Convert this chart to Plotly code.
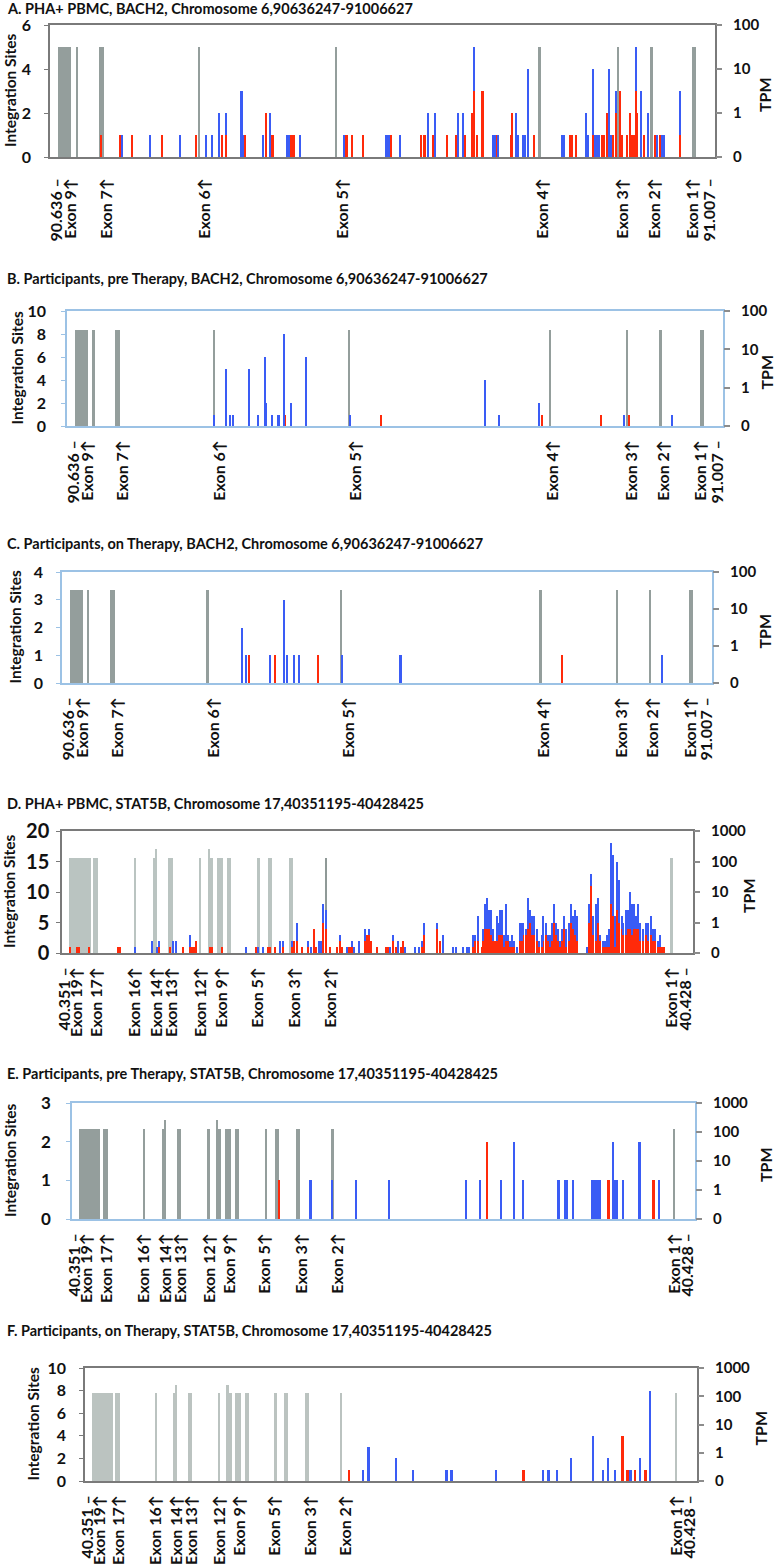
import math
import plotly.graph_objects as go

# ---------------- data ----------------
# BACH2 region, positions in kb from 90,636 kb
bach2_tick_kb = [0, 8.0, 28.4, 84.1, 162.5, 276.1, 321.6, 339.8, 361.4, 371]
bach2_tick_text = ["90.636 –", "Exon 9↑", "Exon 7↑", "Exon 6↑", "Exon 5↑",
                   "Exon 4↑", "Exon 3↑", "Exon 2↑", "Exon 1↑", "91.007 –"]
bach2_exon_start = [0.6, 10.9, 23.9, 80.2, 158.0, 273.9, 318.3, 337.6, 360.8]
bach2_exon_end = [8.0, 11.9, 26.7, 81.2, 159.0, 274.9, 319.3, 338.6, 363.1]
bach2_exon_tpm = [32, 32, 32, 32, 32, 32, 32, 32, 32]

# STAT5B region, positions in kb from 40,351 kb
stat5b_tick_kb = [0, 1.5, 4.0, 8.7, 11.4, 13.3, 16.9, 19.4, 23.9, 28.5, 33.0, 75.3, 77.0]
stat5b_tick_text = ["40.351 –", "Exon 19↑", "Exon 17↑", "Exon 16↑", "Exon 14↑",
                    "Exon 13↑", "Exon 12↑", "Exon 9↑", "Exon 5↑", "Exon 3↑",
                    "Exon 2↑", "Exon 1↑", "40.428 –"]
stat5b_exon_start = [0.5, 3.51, 8.53, 10.9, 11.2, 12.8, 16.6, 17.75, 18.0, 18.81,
                     20.05, 23.82, 25.13, 27.77, 32.2, 75.05]
stat5b_exon_end = [3.19, 4.09, 8.83, 11.2, 11.45, 13.35, 16.9, 18.0, 18.39, 19.63,
                   20.55, 24.12, 25.63, 28.31, 32.5, 75.35]
stat5b_exon_tpm = [126, 126, 126, 126, 251, 126, 126, 251, 126, 126,
                   126, 126, 126, 126, 126, 126]

# A. PHA+ PBMC, BACH2
a_pos = [25, 36, 37, 43, 53, 60, 70, 79, 85, 88, 92, 94, 96, 105, 106, 107, 117, 119,
         121, 122, 123, 131, 132, 133, 134, 135, 138, 163, 164, 165, 168, 174, 187, 188,
         189, 190, 195, 207, 209, 211, 214, 215, 222, 227, 228, 231, 232, 236, 237, 239,
         242, 248, 249, 250, 251, 258, 259, 261, 262, 265, 266, 268, 271, 287, 288, 292,
         293, 295, 301, 302, 305, 306, 307, 308, 310, 311, 313, 314, 315, 316, 318, 320,
         321, 324, 326, 327, 328, 329, 330, 332, 334, 336, 340, 341, 343, 344, 345, 354]
a_red = [1, 1, 0, 1, 0, 1, 0, 1, 0, 0, 0, 1, 1, 0, 0, 1, 0, 2,
         0, 1, 1, 0, 0, 1, 1, 1, 0, 0, 1, 1, 1, 1, 0, 0,
         0, 1, 0, 1, 1, 0, 1, 0, 1, 1, 0, 0, 1, 2, 3, 1,
         3, 0, 0, 1, 0, 1, 2, 0, 0, 0, 0, 0, 1, 0, 0, 1,
         1, 1, 0, 0, 1, 0, 0, 0, 1, 1, 2, 0, 0, 1, 2, 3,
         1, 1, 2, 1, 1, 3, 2, 0, 1, 0, 1, 0, 1, 0, 0, 1]
a_blue = [0, 0, 1, 0, 1, 0, 1, 0, 1, 1, 2, 0, 1, 3, 1, 0, 1, 0,
          2, 0, 0, 1, 1, 0, 0, 0, 1, 1, 0, 0, 0, 0, 1, 1,
          1, 0, 1, 0, 0, 2, 0, 2, 0, 0, 2, 2, 0, 0, 2, 0,
          0, 1, 1, 0, 1, 0, 0, 2, 1, 1, 1, 4, 0, 1, 1, 0,
          0, 0, 2, 1, 3, 1, 1, 1, 0, 0, 0, 4, 1, 0, 1, 0,
          0, 0, 0, 0, 0, 2, 0, 3, 0, 2, 0, 1, 0, 1, 1, 2]

# B. Participants, pre Therapy, BACH2
b_pos = [81, 88, 90, 92, 101, 106, 110, 111, 114, 118, 121, 122, 125, 134, 159, 177,
         237, 245, 268, 270, 304, 317, 320, 345]
b_red = [0, 0, 0, 0, 0, 0, 0, 0, 0, 0, 0, 1, 0, 0, 0, 1, 0, 0, 0, 1, 1, 0, 1, 0]
b_blue = [1, 5, 1, 1, 5, 1, 6, 2, 1, 1, 8, 0, 2, 6, 1, 0, 4, 1, 2, 0, 0, 1, 0, 1]

# C. Participants, on Therapy, BACH2
c_pos = [101, 103, 105, 117, 120, 125, 127, 131, 134, 145, 159, 193, 287, 345]
c_red = [0, 0, 1, 0, 1, 0, 0, 0, 0, 1, 0, 0, 1, 0]
c_blue = [2, 1, 0, 1, 0, 3, 1, 1, 1, 0, 1, 1, 0, 1]

# D. PHA+ PBMC, STAT5B
d_pos = [0.62, 1.53, 1.77, 3.01, 6.61, 6.82, 8.68, 10.75, 11.37, 11.69, 13.02, 13.43,
         13.76, 14.67, 15.5, 15.79, 16.0, 16.21, 17.98, 18.27, 19.43, 22.44, 23.68,
         23.89, 24.59, 25.13, 25.42, 26.04, 26.66, 27.0, 28.11, 28.4, 28.73, 29.35,
         30.17, 30.47, 30.88, 31.12, 31.53, 31.74, 32.03, 32.33, 32.86, 33.69, 34.1,
         34.39, 34.93, 35.13, 35.34, 35.63, 35.87, 36.49, 37.2, 37.41, 37.7, 37.94,
         38.65, 39.8, 40.01, 40.3, 40.71, 41.04, 41.33, 41.63, 41.87, 42.16, 43.4,
         43.93, 44.23, 44.55, 46.09, 46.5, 46.91, 48.15, 48.48, 49.39, 49.89, 50.13,
         50.55, 50.84, 51.17, 51.67, 51.87, 52.08, 52.29, 52.58, 52.82, 53.11, 53.32,
         53.53, 53.73, 53.94, 54.23, 54.44, 54.68, 54.97, 55.18, 55.47, 55.71, 56.01,
         56.42, 56.63, 56.83, 57.13, 57.45, 57.66, 57.95, 58.19, 58.49, 58.81, 59.11,
         59.31, 59.61, 59.85, 60.14, 60.43, 60.64, 60.88, 61.17, 61.38, 61.67, 61.91,
         62.12, 62.5, 62.71, 62.95, 63.24, 63.45, 64.69, 64.98, 65.22, 65.51, 65.81,
         66.13, 66.34, 66.67, 66.96, 67.17, 67.42, 67.67, 67.91, 68.2, 68.49, 68.73,
         69.03, 69.23, 69.56, 69.85, 70.06, 70.35, 70.6, 70.8, 71.09, 71.3, 71.71,
         72.01, 72.33, 72.63, 72.87, 73.16, 73.49, 73.78, 74.07, 74.28]
d_red = [1, 1, 1, 1, 1, 1, 0, 0, 0, 1, 1, 0,
         0, 1, 1, 1, 1, 2, 1, 1, 1, 0, 1,
         0, 0, 1, 1, 1, 0, 1, 1, 2, 2, 1,
         1, 0, 4, 1, 0, 0, 5, 4, 1, 1, 2,
         1, 0, 1, 1, 1, 0, 0, 2, 3, 3, 2,
         1, 1, 1, 0, 2, 1, 0, 1, 2, 0, 0,
         0, 1, 3, 4, 2, 0, 0, 0, 0, 0, 0,
         1, 2, 2, 1, 2, 4, 4, 4, 3, 2, 2,
         2, 3, 3, 3, 1, 2, 2, 1, 1, 1, 0,
         2, 2, 3, 3, 4, 5, 3, 3, 2, 1, 1,
         2, 3, 2, 1, 2, 5, 3, 2, 1, 2, 4,
         1, 2, 5, 4, 3, 2, 0, 5, 11, 3, 2,
         5, 2, 1, 1, 1, 1, 8, 6, 1, 7, 5,
         4, 3, 3, 4, 4, 3, 4, 4, 4, 2, 2,
         3, 2, 3, 2, 2, 1, 1, 1, 1]
d_blue = [0, 0, 0, 0, 0, 0, 1, 2, 1, 1, 0, 2,
          2, 0, 2, 0, 0, 0, 0, 0, 0, 1, 0,
          1, 1, 0, 0, 0, 2, 1, 1, 0, 3, 0,
          1, 1, 0, 0, 2, 2, 3, 3, 0, 0, 1,
          0, 1, 0, 0, 1, 1, 2, 2, 0, 1, 0,
          0, 0, 0, 1, 1, 0, 2, 0, 0, 1, 1,
          1, 1, 2, 1, 0, 3, 1, 1, 1, 1, 1,
          2, 1, 4, 0, 2, 4, 5, 3, 4, 2, 0,
          4, 2, 4, 4, 2, 6, 1, 1, 2, 1, 1,
          3, 3, 2, 1, 5, 2, 3, 3, 2, 1, 2,
          4, 2, 1, 2, 3, 3, 2, 2, 1, 2, 2,
          3, 3, 3, 2, 4, 4, 1, 3, 2, 3, 6,
          4, 1, 1, 1, 2, 3, 10, 10, 5, 8, 7,
          2, 2, 4, 3, 6, 5, 4, 2, 4, 3, 2,
          2, 3, 3, 2, 2, 1, 2, 0, 0]

# E. Participants, pre Therapy, STAT5B
e_pos = [25.68, 29.6, 32.3, 35.3, 39.5, 49.15, 50.9, 51.75, 53.55, 55.1, 56.3, 60.75,
         61.6, 61.8, 62.55, 64.95, 65.15, 65.36, 65.57, 65.78, 65.99, 67.03, 67.59,
         67.88, 68.09, 68.84, 70.93, 72.69, 73.32]
e_red = [1, 0, 0, 0, 0, 0, 0, 2, 0, 0, 0, 0, 0, 0, 0, 0, 0, 0, 0, 0, 0, 1, 0, 0, 0,
         0, 0, 1, 0]
e_blue = [0, 1, 1, 1, 1, 1, 1, 0, 1, 2, 1, 1, 1, 1, 1, 1, 1, 1, 1, 1, 1, 0, 2, 1, 1,
          1, 2, 0, 1]

# F. Participants, on Therapy, STAT5B
f_pos = [33.4, 35.2, 35.9, 39.4, 41.6, 45.9, 46.5, 52.2, 55.7, 58.2, 58.9, 60.0, 61.8,
         64.6, 65.9, 66.5, 67.4, 68.4, 69.0, 69.4, 70.0, 70.6, 71.3, 71.9]
f_red = [1, 0, 0, 0, 0, 0, 0, 0, 1, 0, 0, 0, 0, 0, 0, 0, 0, 4, 1, 0, 1, 0, 1, 0]
f_blue = [0, 1, 3, 2, 1, 1, 1, 1, 0, 1, 1, 1, 2, 4, 1, 2, 1, 0, 0, 1, 0, 2, 0, 8]

# ---------------- layout ----------------
W, H = 777, 1564
RED = "#FF2A0A"
BLUE = "#3A5CF5"
DARK_FRAME = "#7a7a7a"
BLUE_FRAME = "#9cc2e5"
INK = "#111111"

genes = {
    "bach2": dict(ticks=bach2_tick_kb, text=bach2_tick_text, start=bach2_exon_start,
                  end=bach2_exon_end, tpm=bach2_exon_tpm, xr=[-4, 374], bw=0.9,
                  tpm_text=["0", "1", "10", "100"]),
    "stat5b": dict(ticks=stat5b_tick_kb, text=stat5b_tick_text, start=stat5b_exon_start,
                   end=stat5b_exon_end, tpm=stat5b_exon_tpm, xr=[-0.37, 77.87], bw=0.25,
                   tpm_text=["0", "1", "10", "100", "1000"]),
}

# box = plot area in px (left, right, top, bottom); ty = title y;
# lt / rt = x of the left / right axis titles
panels = [
    dict(title="A. PHA+ PBMC, BACH2, Chromosome 6,90636247-91006627", gene="bach2",
         data=(a_pos, a_red, a_blue), ymax=6, dtick=2, frame=DARK_FRAME, gray="#949e9c",
         box=(50, 715, 25, 157), ty=9, xgap=13, ysize=16, ygap=10, lt=10, rt=765),
    dict(title="B. Participants, pre Therapy, BACH2, Chromosome 6,90636247-91006627",
         gene="bach2", data=(b_pos, b_red, b_blue), ymax=10, dtick=2, frame=BLUE_FRAME,
         gray="#949e9c", box=(67, 723, 311, 426), ty=278, xgap=6, ysize=16, ygap=12,
         lt=16, rt=766),
    dict(title="C. Participants, on Therapy, BACH2, Chromosome 6,90636247-91006627",
         gene="bach2", data=(c_pos, c_red, c_blue), ymax=4, dtick=1, frame=BLUE_FRAME,
         gray="#949e9c", box=(62, 712, 572, 683), ty=543, xgap=6, ysize=16, ygap=10,
         lt=14, rt=764),
    dict(title="D. PHA+ PBMC, STAT5B, Chromosome 17,40351195-40428425", gene="stat5b",
         data=(d_pos, d_red, d_blue), ymax=20, dtick=5, frame=DARK_FRAME, gray="#bac4c1",
         box=(62, 693, 831, 953), ty=803, xgap=6, ysize=20, ygap=3, lt=9, rt=748),
    dict(title="E. Participants, pre Therapy, STAT5B, Chromosome 17,40351195-40428425",
         gene="stat5b", data=(e_pos, e_red, e_blue), ymax=3, dtick=1, frame=BLUE_FRAME,
         gray="#949e9c", box=(72, 695, 1103, 1219), ty=1073, xgap=6, ysize=17, ygap=12,
         lt=10, rt=765),
    dict(title="F. Participants, on Therapy, STAT5B, Chromosome 17,40351195-40428425",
         gene="stat5b", data=(f_pos, f_red, f_blue), ymax=10, dtick=2, frame=DARK_FRAME,
         gray="#bbc3c0", box=(85, 697, 1368, 1481), ty=1330, xgap=6, ysize=16, ygap=10,
         lt=32, rt=760),
]

FONT = "Lato"
fig = go.Figure()
layout = {}
annotations = []


def note(text, x, y, size, angle=0, anchor="center"):
    annotations.append(dict(text=text, xref="paper", yref="paper", x=x / W, y=1 - y / H,
                            xanchor=anchor, yanchor="middle", showarrow=False,
                            textangle=angle,
                            font=dict(size=size, color=INK, weight="bold")))


for i, p in enumerate(panels):
    g = genes[p["gene"]]
    pos, red, blue = p["data"]
    l, r, t, b = p["box"]
    frame = p["frame"]
    n = len(g["tpm_text"]) - 1
    xa = "x" if i == 0 else f"x{i + 1}"
    ya_tpm = "y" if i == 0 else f"y{2 * i + 1}"
    ya_cnt = f"y{2 * i + 2}"
    xkey = "xaxis" if i == 0 else f"xaxis{i + 1}"
    ykey_tpm = "yaxis" if i == 0 else f"yaxis{2 * i + 1}"
    ykey_cnt = f"yaxis{2 * i + 2}"

    # exon expression (grey), TPM on a log-like axis where 0 sits at the bottom
    gx = [(s + e) / 2 for s, e in zip(g["start"], g["end"])]
    gw = [e - s for s, e in zip(g["start"], g["end"])]
    gy = [math.log10(v) + 1 for v in g["tpm"]]
    gcol = [p["gray"]] * len(gx)
    if i == 3:
        gcol[-2] = "#8f9997"
    fig.add_trace(go.Bar(x=gx, y=gy, width=gw, marker=dict(color=gcol, line_width=0),
                         xaxis=xa, yaxis=ya_tpm, showlegend=False, hoverinfo="skip"))
    fig.add_trace(go.Bar(x=pos, y=red, width=g["bw"], marker=dict(color=RED, line_width=0),
                         xaxis=xa, yaxis=ya_cnt, showlegend=False))
    fig.add_trace(go.Bar(x=pos, y=blue, width=g["bw"], marker=dict(color=BLUE, line_width=0),
                         xaxis=xa, yaxis=ya_cnt, showlegend=False))

    layout[xkey] = dict(domain=[l / W, r / W], range=g["xr"], anchor=ya_tpm,
                        automargin=False, showline=True, mirror=True,
                        linecolor=frame, linewidth=1.5, showgrid=False, zeroline=False,
                        tickmode="array", tickvals=g["ticks"], ticktext=g["text"],
                        tickangle=-90, ticks="", ticklabelstandoff=p["xgap"],
                        tickfont=dict(size=16, color=INK, weight="bold"))
    layout[ykey_tpm] = dict(domain=[1 - b / H, 1 - t / H], range=[0, n], anchor=xa,
                            side="right", automargin=False,
                            showline=False, showgrid=False, zeroline=False,
                            tickmode="array", tickvals=list(range(n + 1)),
                            ticktext=g["tpm_text"], ticks="outside", ticklen=6,
                            tickcolor="#8c8c8c", tickwidth=1.5, ticklabelstandoff=8,
                            tickfont=dict(size=15, color=INK, weight="bold"))
    layout[ykey_cnt] = dict(range=[0, p["ymax"]], anchor=xa, overlaying=ya_tpm,
                            side="left", automargin=False, showline=True, mirror=True,
                            linecolor=frame, linewidth=1.5,
                            showgrid=False, zeroline=False, dtick=p["dtick"],
                            ticks="outside", ticklen=4, tickcolor=frame,
                            ticklabelstandoff=p["ygap"],
                            tickfont=dict(size=p["ysize"], color=INK, weight="bold"))

    note(p["title"], 5, p["ty"], 14.5, anchor="left")
    note("Integration Sites", p["lt"], (t + b) / 2, 15.5, angle=-90)
    note("TPM", p["rt"], (t + b) / 2 + 4, 16, angle=-90)

fig.update_layout(
    width=W, height=H,
    margin=dict(l=0, r=0, t=0, b=0),
    barmode="stack",
    plot_bgcolor="#ffffff",
    paper_bgcolor="#ffffff",
    font=dict(family=FONT, color=INK),
    annotations=annotations,
    **layout,
)

# the page body has a default 8px margin; drop it so the figure fills the window
fig.write_html("out.html", config={"displayModeBar": False},
               post_script="document.body.style.margin='0px';")
